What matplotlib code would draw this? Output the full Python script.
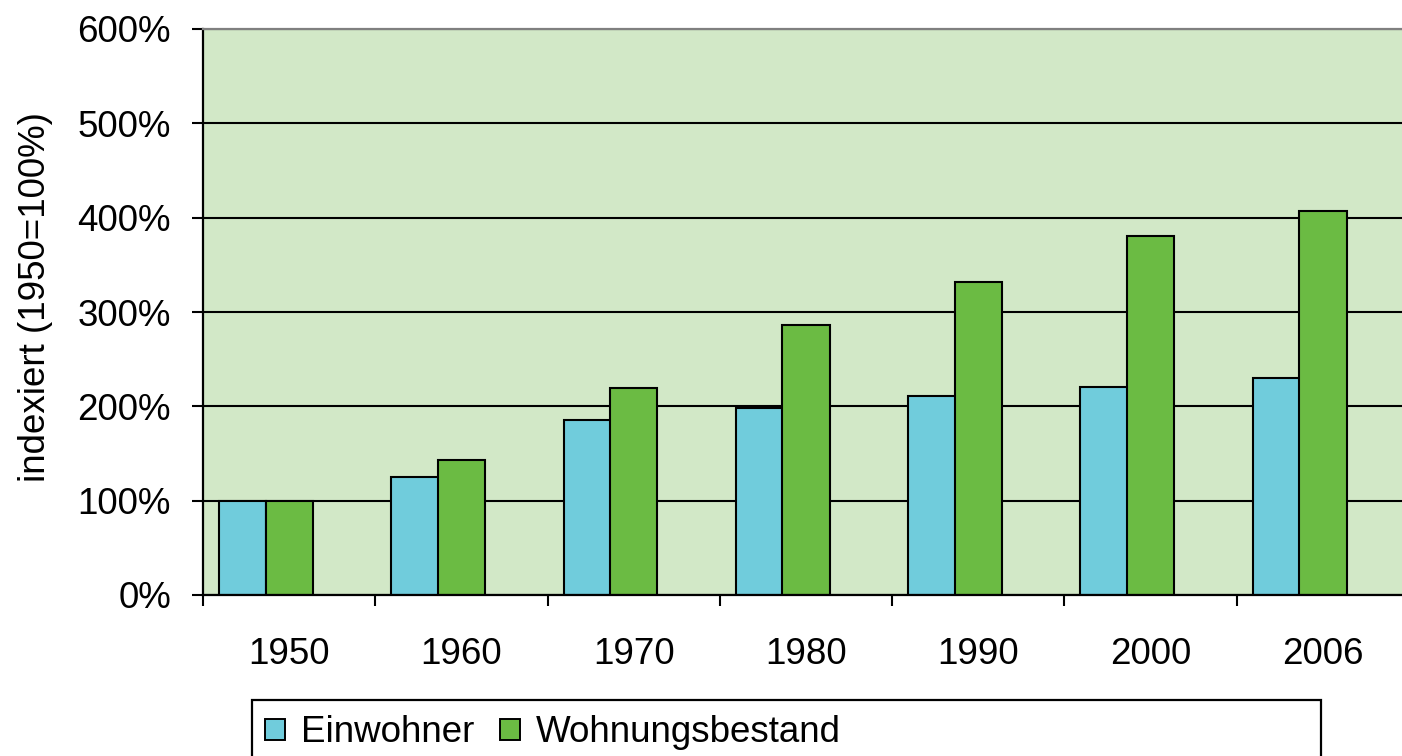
import matplotlib
matplotlib.use("Agg")
import matplotlib.pyplot as plt
from matplotlib.patches import Patch, Rectangle
from matplotlib.ticker import FuncFormatter, FixedLocator

# ---- data ----
years = ["1950", "1960", "1970", "1980", "1990", "2000", "2006"]
einwohner = [100, 125, 185, 198, 211, 221, 230]
wohnungsbestand = [100, 143, 219, 286, 332, 381, 407]
series_names = ["Einwohner", "Wohnungsbestand"]
y_ticks = [0, 100, 200, 300, 400, 500, 600]
y_label = "indexiert (1950=100%)"

# ---- style ----
c_einw = "#70CCDC"
c_wohn = "#6BBB43"
c_bg = "#D2E8C7"
FS = 26.5
plt.rcParams["font.family"] = ["Liberation Sans", "DejaVu Sans"]

W, H = 1402, 756
fig = plt.figure(figsize=(W / 100, H / 100), dpi=100)
ax = fig.add_axes([203 / W, 1 - 595 / H, (1409 - 203) / W, (595 - 29) / H])
ax.set_facecolor(c_bg)

x = list(range(len(years)))
bw = 0.275
ax.bar([i - 0.407 for i in x], einwohner, width=bw, align="edge",
       color=c_einw, edgecolor="black", linewidth=1.5, zorder=2)
ax.bar([i - 0.137 for i in x], wohnungsbestand, width=bw, align="edge",
       color=c_wohn, edgecolor="black", linewidth=1.5, zorder=2)

ax.set_xlim(-0.5, len(years) - 0.5)
ax.set_ylim(0, 600)
ax.set_yticks(y_ticks)
ax.yaxis.set_major_formatter(FuncFormatter(lambda v, p: f"{int(v)}%"))
ax.set_axisbelow(True)
ax.yaxis.grid(True, color="black", linewidth=1.5)

ax.set_xticks(x)
ax.set_xticklabels(years)
ax.xaxis.set_minor_locator(FixedLocator([i - 0.5 for i in range(len(years) + 1)]))
ax.tick_params(axis="x", which="major", length=0, pad=30, labelsize=FS)
ax.tick_params(axis="x", which="minor", length=8, width=1.5, direction="out")
ax.tick_params(axis="y", length=8, width=1.5, direction="out", pad=15, labelsize=FS)

for s in ["left", "bottom"]:
    ax.spines[s].set_color("black")
    ax.spines[s].set_linewidth(1.6)
ax.spines["top"].set_color("#808080")
ax.spines["top"].set_linewidth(1.6)
ax.spines["right"].set_visible(False)

fig.text(36 / W, 1 - 297 / H, y_label, rotation=90, fontsize=FS,
         ha="center", va="center")

# legend box
fig.add_artist(Rectangle((252 / W, -0.05), (1321 - 252) / W, 0.05 + (1 - 700 / H),
                         transform=fig.transFigure, facecolor="white",
                         edgecolor="black", linewidth=1.6, zorder=0))
handles = [Patch(facecolor=c_einw, edgecolor="black", linewidth=1.4),
           Patch(facecolor=c_wohn, edgecolor="black", linewidth=1.4)]
fig.legend(handles, series_names, loc="center left",
           bbox_to_anchor=(265 / W, 1 - 733 / H), ncol=2, frameon=False,
           fontsize=FS, borderpad=0, borderaxespad=0, handlelength=0.54,
           handleheight=0.54, handletextpad=0.45, columnspacing=0.68)

fig.savefig("out.png", dpi=100)
